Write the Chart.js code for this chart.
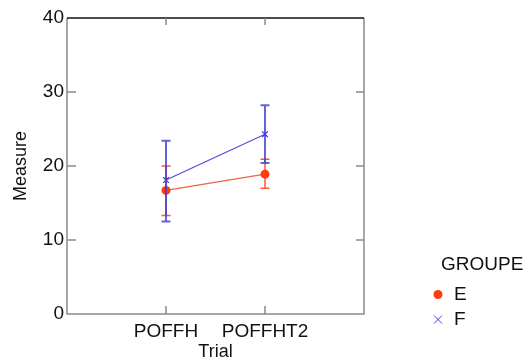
<!DOCTYPE html>
<html>
<head>
<meta charset="utf-8">
<script src="https://cdn.jsdelivr.net/npm/chart.js@4/dist/chart.umd.min.js"></script>
<style>
  html, body { margin: 0; padding: 0; background: #fff; }
  #wrap { width: 525px; height: 361px; }
</style>
</head>
<body>
<div id="wrap"><canvas id="chart"></canvas></div>
<script>
const trials = ['POFFH', 'POFFHT2'];
const trialPos = [1, 2];
const groups = ['E', 'F'];

const meanE = [16.7, 18.9];
const lowE = [13.3, 17.0];
const highE = [20.0, 20.9];

const meanF = [18.1, 24.3];
const lowF = [12.5, 20.4];
const highF = [23.4, 28.2];

const yTicks = [0, 10, 20, 30, 40];

const FONT = 'Liberation Sans, Arial, sans-serif';
const RED = '#ff3b0f';
const BLUE = '#3c3cd2';

function points(means) {
    return trialPos.map((x, i) => ({ x: x, y: means[i] }));
}

// error bars + inner ticks + box + legend
const extras = {
    id: 'extras',
    afterDatasetsDraw(chart) {
        const ctx = chart.ctx;
        const ys = chart.scales.y;
        const bars = [
            { lo: lowE, hi: highE, color: 'rgba(255,59,15,0.85)', w: 1.5 },
            { lo: lowF, hi: highF, color: 'rgba(60,60,210,0.8)', w: 2 }
        ];
        bars.forEach((b, d) => {
            const meta = chart.getDatasetMeta(d);
            ctx.save();
            ctx.strokeStyle = b.color;
            ctx.lineWidth = b.w;
            meta.data.forEach((pt, i) => {
                const x = pt.x;
                const y1 = ys.getPixelForValue(b.lo[i]);
                const y2 = ys.getPixelForValue(b.hi[i]);
                ctx.beginPath();
                ctx.moveTo(x, y1); ctx.lineTo(x, y2);
                ctx.moveTo(x - 4.5, y1); ctx.lineTo(x + 4.5, y1);
                ctx.moveTo(x - 4.5, y2); ctx.lineTo(x + 4.5, y2);
                ctx.stroke();
            });
            ctx.restore();
        });
    },
    afterDraw(chart) {
        const ctx = chart.ctx;
        const a = chart.chartArea;
        const xs = chart.scales.x;
        const ys = chart.scales.y;
        ctx.save();
        ctx.lineWidth = 1.5;
        ctx.strokeStyle = '#8a8a8a';
        ctx.beginPath();
        ctx.moveTo(a.left, a.top); ctx.lineTo(a.left, a.bottom);
        ctx.lineTo(a.right, a.bottom); ctx.lineTo(a.right, a.top);
        ctx.stroke();
        ctx.strokeStyle = '#111';
        ctx.beginPath();
        ctx.moveTo(a.left, a.top); ctx.lineTo(a.right, a.top);
        ctx.stroke();

        ctx.strokeStyle = '#8a8a8a';
        ctx.beginPath();
        yTicks.slice(1, -1).forEach(v => {
            const y = ys.getPixelForValue(v);
            ctx.moveTo(a.left, y); ctx.lineTo(a.left + 9, y);
            ctx.moveTo(a.right, y); ctx.lineTo(a.right - 8, y);
        });
        trialPos.forEach(v => {
            const x = xs.getPixelForValue(v);
            ctx.moveTo(x, a.top); ctx.lineTo(x, a.top + 7);
            ctx.moveTo(x, a.bottom); ctx.lineTo(x, a.bottom - 8);
        });
        ctx.stroke();

        // legend
        ctx.fillStyle = '#111';
        ctx.font = '19px ' + FONT;
        ctx.textBaseline = 'middle';
        ctx.textAlign = 'left';
        ctx.fillText('GROUPE', 441, 265);
        ctx.fillText(groups[0], 454, 294.5);
        ctx.fillText(groups[1], 454, 319.5);
        ctx.fillStyle = RED;
        ctx.beginPath();
        ctx.arc(438, 294.5, 4.5, 0, Math.PI * 2);
        ctx.fill();
        ctx.strokeStyle = BLUE;
        ctx.lineWidth = 1;
        ctx.beginPath();
        ctx.moveTo(434, 315.5); ctx.lineTo(442, 323.5);
        ctx.moveTo(442, 315.5); ctx.lineTo(434, 323.5);
        ctx.stroke();
        ctx.restore();
    }
};

new Chart(document.getElementById('chart'), {
    type: 'line',
    data: {
        datasets: [
            {
                label: groups[0],
                data: points(meanE),
                borderColor: 'rgba(240,80,50,0.9)',
                borderWidth: 1.2,
                pointStyle: 'circle',
                pointRadius: 4.5,
                pointBackgroundColor: RED,
                pointBorderColor: RED,
                pointBorderWidth: 0,
                fill: false,
                tension: 0
            },
            {
                label: groups[1],
                data: points(meanF),
                borderColor: 'rgba(60,60,210,0.9)',
                borderWidth: 1.2,
                pointStyle: 'crossRot',
                pointRadius: 4,
                pointBorderColor: BLUE,
                pointBorderWidth: 1.2,
                fill: false,
                tension: 0
            }
        ]
    },
    plugins: [extras],
    options: {
        responsive: true,
        maintainAspectRatio: false,
        animation: false,
        layout: { padding: { top: 18, right: 161, left: 0, bottom: 0 } },
        plugins: {
            legend: { display: false },
            tooltip: { enabled: false }
        },
        scales: {
            x: {
                type: 'linear',
                min: 0,
                max: 3,
                grid: { display: false, drawTicks: false },
                border: { display: false },
                afterBuildTicks(scale) {
                    scale.ticks = trialPos.map(v => ({ value: v }));
                },
                afterFit(scale) { scale.height = 47; },
                ticks: {
                    color: '#111',
                    padding: 6,
                    maxRotation: 0,
                    autoSkip: false,
                    font: { family: FONT, size: 19 },
                    callback: (v) => trials[trialPos.indexOf(v)] || ''
                },
                title: {
                    display: true,
                    text: 'Trial',
                    color: '#111',
                    padding: { top: 0, bottom: 0 },
                    font: { family: FONT, size: 18, lineHeight: 1 }
                }
            },
            y: {
                min: 0,
                max: 40,
                grid: { display: false, drawTicks: false },
                border: { display: false },
                afterBuildTicks(scale) {
                    scale.ticks = yTicks.map(v => ({ value: v }));
                },
                afterFit(scale) { scale.width = 67; },
                ticks: {
                    color: '#111',
                    padding: 3,
                    font: { family: FONT, size: 19 }
                },
                title: {
                    display: true,
                    text: 'Measure',
                    color: '#111',
                    padding: { top: 12, bottom: 0 },
                    font: { family: FONT, size: 18, lineHeight: 1 }
                }
            }
        }
    }
});
</script>
</body>
</html>
